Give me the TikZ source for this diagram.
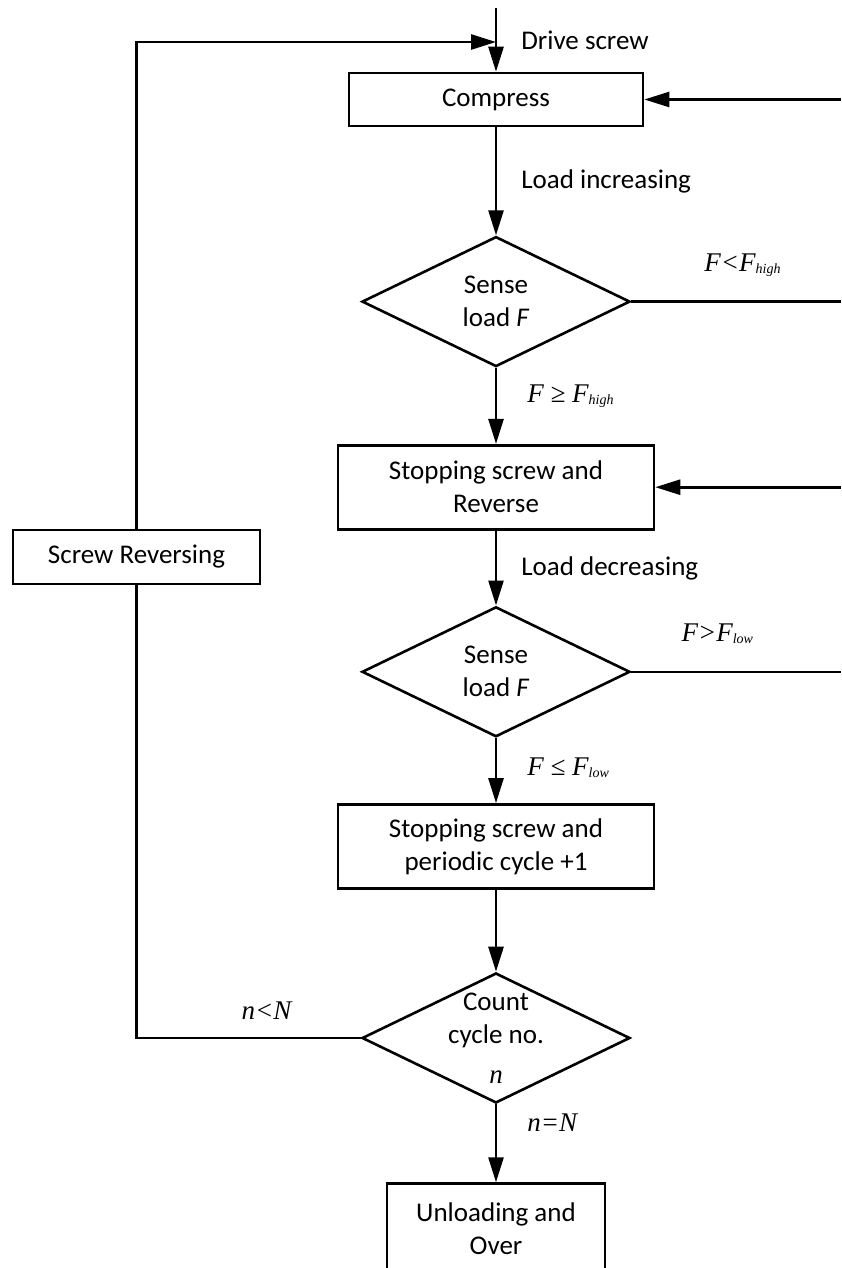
\documentclass[tikz,border=0pt]{standalone}
\usepackage{fontspec}
\setmainfont{Carlito}
\newfontfamily\lblfont{Liberation Serif}
\usetikzlibrary{shapes.geometric, arrows.meta, positioning}
\newcommand{\Fsub}[1]{\textit{F}\raisebox{-0.08em}{\fontsize{14}{14}\selectfont\textit{#1}}}
\tikzset{
  flow/.style={draw, line width=2.6pt, align=center, inner sep=0pt, font=\fontsize{27}{33}\selectfont},
  process/.style={flow, minimum width=316pt, minimum height=84pt},
  decision/.style={flow, diamond, aspect=2.06, minimum width=268pt, minimum height=130pt},
  arrow/.style={-{Triangle[length=25pt, width=15pt]}, line width=2.6pt},
  line/.style={line width=2.6pt},
  note/.style={inner sep=2pt, font=\fontsize{27}{33}\selectfont},
  cond/.style={inner sep=2pt, font=\lblfont\itshape\fontsize{27}{33}\selectfont}
}

\begin{document}
\begin{tikzpicture}[x=1pt, y=-1pt]
  \clip (0,0) rectangle (841,1268);
  % Nodes
  \node[flow, minimum width=294pt, minimum height=53pt] (compress) at (496,99.5) {Compress};
  \node[decision, below=108pt of compress] (sense1) {Sense\\ load \textit{F}};
  \node[process, below=76pt of sense1] (stop1) {Stopping screw and\\ Reverse};
  \node[decision, below=75pt of stop1] (sense2) {Sense\\ load \textit{F}};
  \node[process, below=65pt of sense2] (stop2) {Stopping screw and\\ periodic cycle +1};
  \node[decision, below=82pt of stop2,
        label={[note, align=center]center:{Count\\ cycle no.\\[7pt] {\lblfont\itshape n}}}] (count) {};
  \node[process, minimum width=218pt, minimum height=90pt, below=78pt of count] (unload) {Unloading and\\ Over};
  \node[flow, minimum width=247pt, minimum height=54pt] (screwrev) at (136.5,557) {Screw Reversing};

  \coordinate (drivein) at (496,8);
  \coordinate (merge) at (496,42);
  \coordinate (edge) at (841,0);

  % Arrows
  \draw[arrow] (drivein) -- node[note, right=22pt, pos=0.5] {Drive screw} (compress);
  \draw[arrow] (compress) -- node[note, right=22pt] {Load increasing} (sense1);
  \draw[arrow] (sense1) -- node[cond, right=28pt, pos=0.37] {F ≥ \Fsub{high}} (stop1);
  \draw[arrow] (stop1) -- node[note, right=22pt] {Load decreasing} (sense2);
  \draw[arrow] (sense2) -- node[cond, right=28pt, pos=0.45] {F ≤ \Fsub{low}} (stop2);
  \draw[arrow] (stop2) -- (count);
  \draw[arrow] (count) -- node[cond, right=28pt, pos=0.24] {n=N} (unload);

  % Feedback lines
  \draw[line] (sense1.east) -- node[cond, above=22pt, pos=0.53] {F<\Fsub{high}} (sense1.east -| edge);
  \draw[arrow] (compress.east -| edge) -- (compress.east);
  \draw[line] (sense2.east) -- node[cond, above=25pt, pos=0.41] {F>\Fsub{low}} (sense2.east -| edge);
  \draw[arrow] (stop1.east -| edge) -- (stop1.east);
  \draw[line] (count.west) -- node[cond, above=15pt, pos=0.42] {n<N} (count.west -| screwrev.south) -- (screwrev.south);
  \draw[arrow] (screwrev.north) |- (merge);
\end{tikzpicture}
\end{document}
